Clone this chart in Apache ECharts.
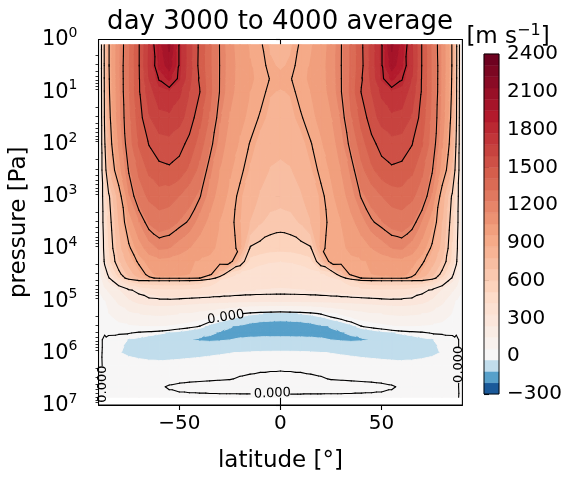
<!DOCTYPE html>
<html><head><meta charset="utf-8">
<script src="https://cdn.jsdelivr.net/npm/echarts@6/dist/echarts.min.js"></script>
<style>html,body{margin:0;padding:0;background:#fff}#c{width:581px;height:478px}</style>
</head><body><div id="c"></div>
<script>
// ---------- grid coordinates ----------
const latitudes = [-89,-87,-85,-80,-75,-70,-65,-60,-55,-50,-45,-40,-35,-30,-25,-20,-15,-10,-5,0,5,10,15,20,25,30,35,40,45,50,55,60,65,70,75,80,85,87,89];
const pressureLevels = [1.2589, 3.1623, 5.6234, 10, 31.623, 100, 316.23, 1000, 3162.3, 10000, 17783, 31623, 37154, 41687, 63096, 100000, 177828, 316228, 416869, 562341, 1000000, 1778279, 3162278, 4466836, 7079458];

// ---------- zonal wind [m/s], one array per pressure level ----------
const u_1_26Pa  = [200,640,890,1110,1300,1495,1690,1920,2060,1790,1620,1480,1340,1195,1080,1000,950,910,860,830,860,910,950,1000,1080,1195,1340,1480,1620,1790,2060,1920,1690,1495,1300,1110,890,640,200];
const u_3_16Pa  = [200,640,890,1115,1310,1495,1700,1880,2000,1790,1620,1475,1340,1197,1090,1010,965,925,880,860,880,925,965,1010,1090,1197,1340,1475,1620,1790,2000,1880,1700,1495,1310,1115,890,640,200];
const u_5_62Pa  = [200,635,885,1112,1310,1492,1680,1810,1880,1780,1610,1490,1345,1196,1085,1010,968,945,895,888,895,945,968,1010,1085,1196,1345,1490,1610,1780,1880,1810,1680,1492,1310,1112,885,635,200];
const u_10Pa    = [195,630,880,1110,1310,1490,1640,1740,1760,1700,1590,1505,1350,1195,1080,1000,960,930,875,865,875,930,960,1000,1080,1195,1350,1505,1590,1700,1760,1740,1640,1490,1310,1110,880,630,195];
const u_31_6Pa  = [190,620,860,1100,1290,1460,1580,1650,1660,1620,1550,1440,1310,1150,1040,980,940,890,850,840,850,890,940,980,1040,1150,1310,1440,1550,1620,1660,1650,1580,1460,1290,1100,860,620,190];
const u_100Pa   = [185,580,830,1060,1270,1420,1505,1550,1560,1535,1470,1370,1240,1100,1000,950,895,845,810,800,810,845,895,950,1000,1100,1240,1370,1470,1535,1560,1550,1505,1420,1270,1060,830,580,185];
const u_316Pa   = [180,520,760,1000,1210,1340,1430,1475,1485,1460,1390,1290,1160,1050,970,920,860,810,775,765,775,810,860,920,970,1050,1160,1290,1390,1460,1485,1475,1430,1340,1210,1000,760,520,180];
const u_1e3Pa   = [175,420,580,830,1130,1270,1340,1370,1360,1320,1260,1210,1100,1000,940,880,820,770,740,730,740,770,820,880,940,1000,1100,1210,1260,1320,1360,1370,1340,1270,1130,830,580,420,175];
const u_3_16e3Pa= [170,390,540,780,990,1140,1240,1275,1260,1225,1190,1100,1020,960,920,870,780,700,655,640,655,700,780,870,920,960,1020,1100,1190,1225,1260,1275,1240,1140,990,780,540,390,170];
const u_1e4Pa   = [160,350,500,740,880,1000,1100,1150,1140,1100,1050,1000,970,950,930,880,590,560,540,535,540,560,590,880,930,950,970,1000,1050,1100,1140,1150,1100,1000,880,740,500,350,160];
const u_1_78e4Pa= [150,320,470,680,820,920,990,1020,1010,985,965,955,950,955,960,700,470,440,425,420,425,440,470,700,960,955,950,955,965,985,1010,1020,990,920,820,680,470,320,150];
const u_3_16e4Pa= [140,240,320,560,720,840,930,990,990,975,960,950,940,700,450,400,385,368,362,360,362,368,385,400,450,700,940,950,960,975,990,990,930,840,720,560,320,240,140];
const u_3_72e4Pa= [130,220,290,500,660,780,880,920,925,920,915,905,700,520,420,390,375,360,355,352,355,360,375,390,420,520,700,905,915,920,925,920,880,780,660,500,290,220,130];
const u_4_17e4Pa= [110,190,250,380,520,590,595,595,595,595,590,570,480,420,390,372,360,350,345,342,345,350,360,372,390,420,480,570,590,595,595,595,595,590,520,380,250,190,110];
const u_6_31e4Pa= [80,130,160,230,290,320,360,390,400,400,390,380,370,355,345,338,332,328,326,325,326,328,332,338,345,355,370,380,390,400,400,390,360,320,290,230,160,130,80];
const u_1e5Pa   = [20,60,100,170,230,265,280,285,285,280,275,270,268,266,264,262,261,260,260,260,260,260,261,262,264,266,268,270,275,280,285,285,280,265,230,170,100,60,20];
const u_1_78e5Pa= [10,30,60,100,130,150,160,165,160,150,140,120,100,70,40,5,-15,-28,-35,-40,-35,-28,-15,5,40,70,100,120,140,150,160,165,160,150,130,100,60,30,10];
const u_3_16e5Pa= [10,15,25,35,45,50,55,55,45,30,15,-5,-55,-90,-115,-135,-160,-176,-182,-185,-182,-176,-160,-135,-115,-90,-55,-5,15,30,45,55,55,50,45,35,25,15,10];
const u_4_17e5Pa= [6,2,6,5,3,-8,-15,-22,-35,-50,-70,-95,-112,-124,-135,-145,-150,-155,-158,-158,-158,-155,-150,-145,-135,-124,-112,-95,-70,-50,-35,-22,-15,-8,3,5,6,2,6];
const u_5_62e5Pa= [3,-4,-10,-18,-32,-40,-52,-66,-86,-105,-115,-128,-132,-128,-121,-110,-100,-94,-91,-90,-91,-94,-100,-110,-121,-128,-132,-128,-115,-105,-86,-66,-52,-40,-32,-18,-10,-4,3];
const u_1e6Pa   = [3,-5,-12,-28,-36,-40,-43,-45,-45,-44,-42,-40,-37,-34,-31,-28,-25,-23,-22,-22,-22,-23,-25,-28,-31,-34,-37,-40,-42,-44,-45,-45,-43,-40,-36,-28,-12,-5,3];
const u_1_78e6Pa= [4,-6,-8,-10,-15,-18,-20,-20,-18,-16,-14,-12,-10,-9,-8,-8,-7,-6,-6,-6,-6,-6,-7,-8,-8,-9,-10,-12,-14,-16,-18,-20,-20,-18,-15,-10,-8,-6,4];
const u_3_16e6Pa= [4,-5,-7,-8,-9,-9,-9,-8,-7,-6,-5,-4,-3,-2,-1,2,4,6,8,9,8,6,4,2,-1,-2,-3,-4,-5,-6,-7,-8,-9,-9,-9,-8,-7,-5,4];
const u_4_47e6Pa= [4,-5,-6,-7,-7,-7,-6,-3,2,5,7,8,9,10,10,11,11,12,12,12,12,12,11,11,10,10,9,8,7,5,2,-3,-6,-7,-7,-7,-6,-5,4];
const u_7_08e6Pa= [3,-4,-5,-5,-5,-5,-5,-5,-5,-5,-5,-5,-5,-5,-5,-5,-5,-5,-5,-5,-5,-5,-5,-5,-5,-5,-5,-5,-5,-5,-5,-5,-5,-5,-5,-5,-5,-4,3];

const windRows = [u_1_26Pa,u_3_16Pa,u_5_62Pa,u_10Pa,u_31_6Pa,u_100Pa,u_316Pa,u_1e3Pa,u_3_16e3Pa,u_1e4Pa,u_1_78e4Pa,u_3_16e4Pa,u_3_72e4Pa,u_4_17e4Pa,u_6_31e4Pa,u_1e5Pa,u_1_78e5Pa,u_3_16e5Pa,u_4_17e5Pa,u_5_62e5Pa,u_1e6Pa,u_1_78e6Pa,u_3_16e6Pa,u_4_47e6Pa,u_7_08e6Pa];

// ---------- contour settings / tick labels ----------
const colorLevels = [-300,-210,-120,-30,60,150,240,330,420,510,600,690,780,870,960,1050,1140,1230,1320,1410,1500,1590,1680,1770,1860,1950,2040,2130,2220,2310,2400];
const lineLevels = [0,300,600,900,1200,1500,1800];
const latTicks = [-50,0,50];
const pressureTicks = [1,10,100,1000,10000,100000,1000000,10000000];
const zeroLabels = [ // [lat, pressure, rotation]
  [-27, 208930, 0.16],
  [-4, 6025596, 0.04],
  [-87.9, 3981072, Math.PI/2],
  [88.1, 1659587, Math.PI/2]
];

const FONT = 'DejaVu Sans';
const minorTicks = [];
for (let e = 0; e < 7; e++) for (let m = 2; m <= 9; m++) minorTicks.push(m * Math.pow(10, e));

// RdBu_r with two-slope normalisation centred on 0
const rdbuR = ['#053061','#2166ac','#4393c3','#92c5de','#d1e5f0','#f7f7f7','#fddbc7','#f4a582','#d6604d','#b2182b','#67001f'];
function hex2rgb(h){return [parseInt(h.slice(1,3),16),parseInt(h.slice(3,5),16),parseInt(h.slice(5,7),16)];}
const rdbuRgb = rdbuR.map(hex2rgb);
function cmap(t){
  t = Math.max(0, Math.min(1, t));
  const x = t * 10, i = Math.min(9, Math.floor(x)), f = x - i;
  const a = rdbuRgb[i], b = rdbuRgb[i+1];
  return 'rgb(' + a.map((c,k)=>Math.round(c + f*(b[k]-c))).join(',') + ')';
}
function norm(v){ return v < 0 ? 0.5*(v+300)/300 : 0.5 + 0.5*v/2400; }
const bandColors = [];
for (let k = 0; k < colorLevels.length-1; k++) bandColors.push(cmap(norm((colorLevels[k]+colorLevels[k+1])/2)));

// ---------- cells ----------
const cells = [];
for (let j = 0; j < pressureLevels.length-1; j++)
  for (let i = 0; i < latitudes.length-1; i++)
    cells.push([(latitudes[i]+latitudes[i+1])/2, Math.sqrt(pressureLevels[j]*pressureLevels[j+1]), i, j]);

function cellCorners(api, i, j){
  return [[i,j],[i+1,j],[i+1,j+1],[i,j+1]].map(([a,b]) => {
    const c = api.coord([latitudes[a], pressureLevels[b]]);
    return [c[0], c[1], windRows[b][a]];
  });
}
function clip(poly, level, keepAbove){
  const out = [];
  for (let k = 0; k < poly.length; k++){
    const a = poly[k], b = poly[(k+1)%poly.length];
    const ina = keepAbove ? a[2] >= level : a[2] <= level;
    const inb = keepAbove ? b[2] >= level : b[2] <= level;
    if (ina) out.push(a);
    if (ina !== inb){
      const t = (level - a[2])/(b[2]-a[2]);
      out.push([a[0]+t*(b[0]-a[0]), a[1]+t*(b[1]-a[1]), level]);
    }
  }
  return out;
}
function triangles(p){
  // split each cell along the diagonal joining the two corners closest in value
  if (Math.abs(p[0][2]-p[2][2]) <= Math.abs(p[1][2]-p[3][2])) return [[p[0],p[1],p[2]],[p[0],p[2],p[3]]];
  return [[p[0],p[1],p[3]],[p[1],p[2],p[3]]];
}
function renderFill(params, api){
  const p = cellCorners(api, api.value(2), api.value(3));
  const children = [];
  for (const tri of triangles(p)){
    const vs = tri.map(q=>q[2]);
    const vmin = Math.min(...vs), vmax = Math.max(...vs);
    for (let k = 0; k < colorLevels.length-1; k++){
      const lo = colorLevels[k], hi = colorLevels[k+1];
      if (hi <= vmin || lo >= vmax) { if (!(vmin===vmax && vmin>=lo && vmin<hi)) continue; }
      let poly = tri;
      if (lo > vmin) poly = clip(poly, lo, true);
      if (poly.length < 3) continue;
      if (hi < vmax) poly = clip(poly, hi, false);
      if (poly.length < 3) continue;
      children.push({type:'polygon', shape:{points: poly.map(q=>[q[0],q[1]])},
        style:{fill: bandColors[k], stroke: bandColors[k], lineWidth: 1}});
    }
  }
  return {type:'group', children};
}
function renderLines(params, api){
  const p = cellCorners(api, api.value(2), api.value(3));
  const masks = zeroLabels.map(l => { const c = api.coord([l[0], l[1]]); return [c[0], c[1], l[2]]; });
  const children = [];
  for (const tri of triangles(p)){
    for (const L of lineLevels){
      const pts = [];
      for (let k = 0; k < 3; k++){
        const a = tri[k], b = tri[(k+1)%3];
        if ((a[2] < L) !== (b[2] < L)){
          const t = (L - a[2])/(b[2]-a[2]);
          pts.push([a[0]+t*(b[0]-a[0]), a[1]+t*(b[1]-a[1])]);
        }
      }
      if (pts.length !== 2) continue;
      if (L === 0){
        const mx = (pts[0][0]+pts[1][0])/2, my = (pts[0][1]+pts[1][1])/2;
        let hidden = false;
        for (const m of masks){
          const dx = mx-m[0], dy = my-m[1];
          const u = dx*Math.cos(m[2]) - dy*Math.sin(m[2]);
          const v = dx*Math.sin(m[2]) + dy*Math.cos(m[2]);
          if (Math.abs(u) < 20 && Math.abs(v) < 7) hidden = true;
        }
        if (hidden) continue;
      }
      children.push({type:'line', shape:{x1:pts[0][0], y1:pts[0][1], x2:pts[1][0], y2:pts[1][1]},
        style:{stroke:'#000', lineWidth:1.1, lineCap:'round'}});
    }
  }
  return {type:'group', children};
}
function renderLabel(params, api){
  const c = api.coord([api.value(0), api.value(1)]);
  return {type:'text', x:c[0], y:c[1], rotation: api.value(2),
    style:{text:'0.000', fill:'#000', fontSize:13, fontFamily:FONT, align:'center', verticalAlign:'middle', textAlign:'center', textVerticalAlign:'middle'}};
}
function renderFrame(params, api){
  const a = api.coord([-90, 1]), b = api.coord([90, 1e7]);
  return {type:'rect', shape:{x:a[0], y:a[1], width:b[0]-a[0], height:b[1]-a[1]},
    style:{fill:'none', stroke:'#000', lineWidth:1.1}};
}
const cbData = [];
for (let k = 0; k < colorLevels.length-1; k++) cbData.push([0.5, (colorLevels[k]+colorLevels[k+1])/2, colorLevels[k], colorLevels[k+1], k]);
function renderBar(params, api){
  const a = api.coord([0, api.value(3)]), b = api.coord([1, api.value(2)]);
  const col = bandColors[api.value(4)];
  return {type:'rect', shape:{x:a[0], y:a[1], width:b[0]-a[0], height:b[1]-a[1]}, style:{fill:col, stroke:col, lineWidth:0.5}};
}
function renderBarFrame(params, api){
  const a = api.coord([0, 2400]), b = api.coord([1, -300]);
  return {type:'rect', shape:{x:a[0], y:a[1], width:b[0]-a[0], height:b[1]-a[1]}, style:{fill:'none', stroke:'#000', lineWidth:0.9}};
}
const minus = v => (v < 0 ? '\u2212' + (-v) : String(v));

const chart = echarts.init(document.getElementById('c'), null, {renderer:'canvas'});
chart.setOption({
  animation: false,
  backgroundColor: '#fff',
  textStyle: {fontFamily: FONT, color:'#000'},
  grid: [
    {left: 97.6, top: 39.5, width: 364.8, height: 365.5},
    {left: 484, top: 54, width: 15, height: 340}
  ],
  xAxis: [
    {gridIndex:0, type:'value', min:-90, max:90, name:'latitude [°]', nameLocation:'middle', nameGap:45,
     nameTextStyle:{fontSize:23, color:'#000', fontFamily:FONT},
     axisLine:{show:true, lineStyle:{color:'#000', width:1.1}},
     axisTick:{show:true, customValues: latTicks, length:5, lineStyle:{color:'#000', width:1.1}},
     axisLabel:{customValues: latTicks, formatter: minus, fontSize:20, color:'#000', margin:9, fontFamily:FONT},
     splitLine:{show:false}},
    {gridIndex:1, type:'value', min:0, max:1, show:false}
  ],
  yAxis: [
    {gridIndex:0, type:'log', logBase:10, min:1, max:1e7, inverse:true, position:'left',
     name:'pressure [Pa]', nameLocation:'middle', nameGap:58, nameRotate:90,
     nameTextStyle:{fontSize:23, color:'#000', fontFamily:FONT},
     axisLine:{show:true, lineStyle:{color:'#000', width:1.1}},
     axisTick:{show:true, customValues: pressureTicks, length:5, lineStyle:{color:'#000', width:1.1}},
     axisLabel:{customValues: pressureTicks, margin:21,
       formatter: v => '{b|10}{s|' + Math.round(Math.log10(v)) + '}',
       rich:{ b:{fontSize:21, fontFamily:FONT, color:'#000', lineHeight:22, verticalAlign:'bottom'},
              s:{fontSize:14, fontFamily:FONT, color:'#000', lineHeight:14, padding:[0,0,10,0], verticalAlign:'bottom'} }},
     splitLine:{show:false}},
    {gridIndex:0, type:'log', logBase:10, min:1, max:1e7, inverse:true, position:'left',
     axisLine:{show:false}, axisLabel:{show:false}, splitLine:{show:false},
     axisTick:{show:true, customValues: minorTicks, length:3, lineStyle:{color:'#000', width:0.8}}},
    {gridIndex:1, type:'value', min:-300, max:2400, interval:300, position:'right',
     axisLine:{show:false},
     axisTick:{show:true, length:5, lineStyle:{color:'#000', width:1.1}},
     axisLabel:{formatter: minus, fontSize:20, color:'#000', margin:8, fontFamily:FONT},
     splitLine:{show:false}}
  ],
  graphic: [
    {type:'text', x:280, y:22, style:{text:'day 3000 to 4000 average', font:'26px "DejaVu Sans"', fill:'#000', textAlign:'center', textVerticalAlign:'middle', align:'center', verticalAlign:'middle'}},
    {type:'text', x:508, y:37, style:{text:'{a|[m s}{s|\u22121}{a|]}', fill:'#000', textAlign:'center', textVerticalAlign:'middle', align:'center', verticalAlign:'middle',
      rich:{a:{fontSize:23, fontFamily:FONT, color:'#000', lineHeight:24, verticalAlign:'bottom'}, s:{fontSize:16, fontFamily:FONT, color:'#000', lineHeight:16, padding:[0,0,10,0], verticalAlign:'bottom'}}}}
  ],
  series: [
    {type:'custom', xAxisIndex:0, yAxisIndex:0, data:cells, encode:{x:0, y:1}, renderItem:renderFill, silent:true, z:1},
    {type:'custom', xAxisIndex:0, yAxisIndex:0, data:cells, encode:{x:0, y:1}, renderItem:renderLines, silent:true, z:2},
    {type:'custom', xAxisIndex:0, yAxisIndex:0, data:zeroLabels, encode:{x:0, y:1}, renderItem:renderLabel, silent:true, z:3},
    {type:'custom', xAxisIndex:0, yAxisIndex:0, data:[[0, 1000]], encode:{x:0, y:1}, renderItem:renderFrame, silent:true, z:4},
    {type:'custom', xAxisIndex:1, yAxisIndex:2, data:cbData, encode:{x:0, y:1}, renderItem:renderBar, silent:true, z:1},
    {type:'custom', xAxisIndex:1, yAxisIndex:2, data:[[0.5, 0]], encode:{x:0, y:1}, renderItem:renderBarFrame, silent:true, z:2}
  ]
});
</script></body></html>
